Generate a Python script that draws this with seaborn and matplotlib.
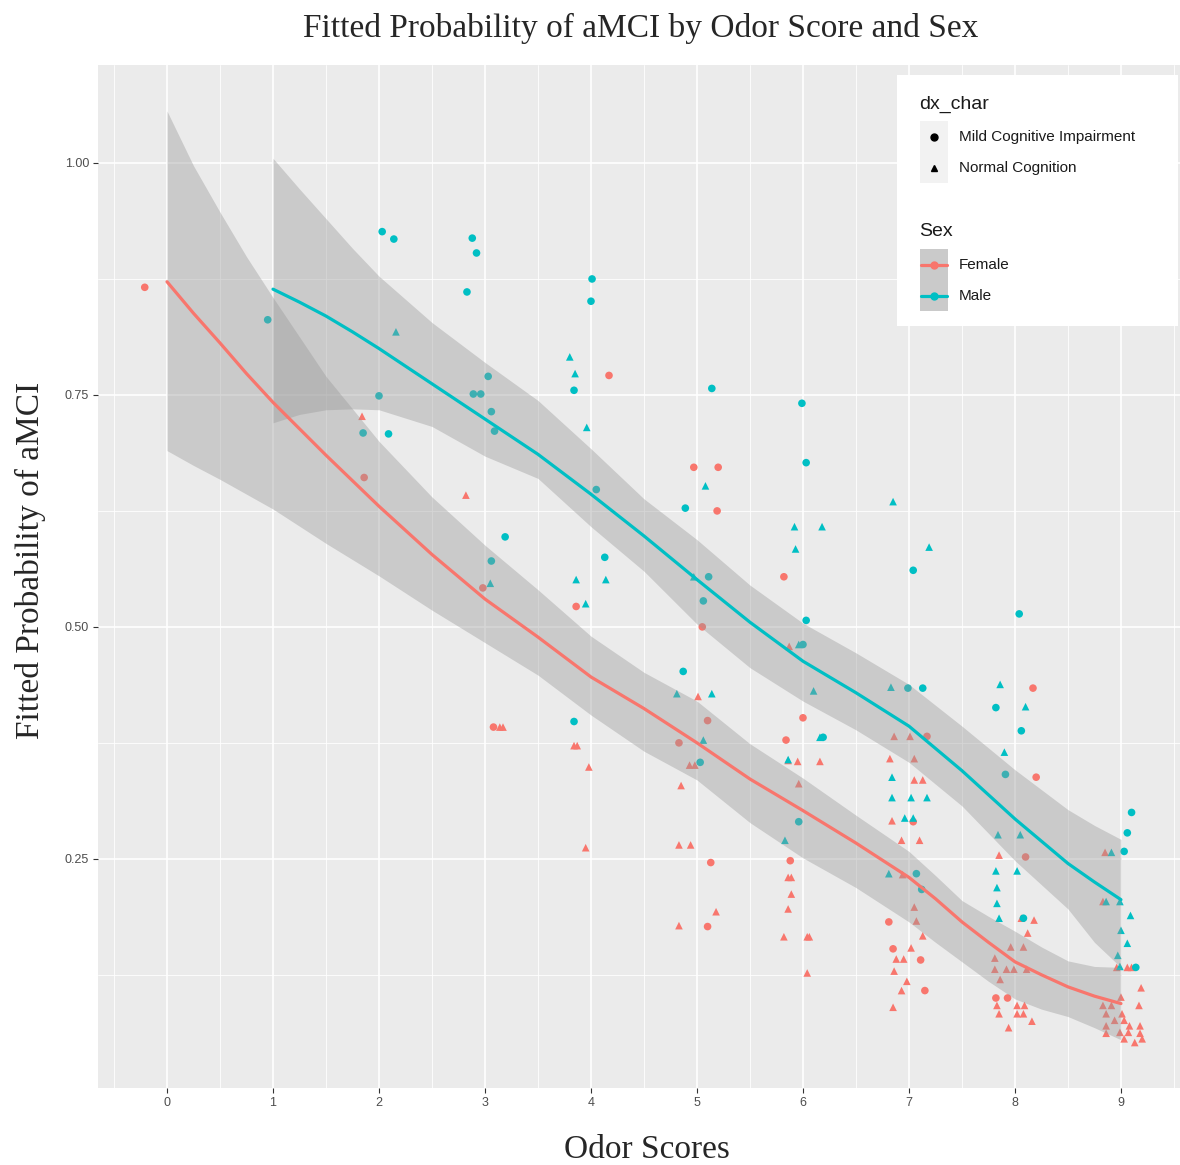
import numpy as np
import pandas as pd
import matplotlib
matplotlib.use("Agg")
import matplotlib.pyplot as plt
import seaborn as sns
from matplotlib.patches import Rectangle
from matplotlib.lines import Line2D
from matplotlib.ticker import MultipleLocator

# --- puntos: odor score (con jitter) y probabilidad ajustada ---
fem_mci_x = [-0.21, 1.86, 2.98, 3.08, 4.17, 3.86, 4.97, 5.20, 5.19, 5.82, 5.05, 5.10, 4.83, 5.84,
             6.00, 5.13, 5.10, 5.88, 7.17, 7.04, 6.81, 6.85, 7.11, 7.15, 8.17, 8.20, 8.10, 7.82, 7.93]
fem_mci_y = [0.866, 0.661, 0.542, 0.392, 0.771, 0.522, 0.672, 0.672, 0.625, 0.554, 0.500, 0.399, 0.375, 0.378,
             0.402, 0.246, 0.177, 0.248, 0.382, 0.290, 0.182, 0.153, 0.141, 0.108, 0.434, 0.338, 0.252, 0.100, 0.100]

fem_nc_x = [1.84, 2.82, 3.14, 3.17, 3.84, 3.87, 3.98, 3.95, 5.01, 4.93, 4.98, 4.85, 4.83, 4.94, 5.18, 4.83,
            5.87, 5.86, 5.95, 6.16, 5.96, 5.86, 5.89, 5.89, 5.86, 5.82, 6.04, 6.06, 6.04,
            6.86, 7.01, 6.82, 7.05, 7.05, 7.13, 6.84, 6.93, 7.10, 6.94, 7.05, 7.07, 7.13, 7.02, 6.88, 6.95,
            6.86, 6.98, 6.93, 6.85,
            7.85, 8.06, 8.18, 8.12, 7.96, 8.08, 7.81, 7.81, 7.92, 7.99, 8.11, 7.86, 7.83, 8.02, 8.09, 7.85,
            8.02, 8.08, 8.16, 7.94,
            8.85, 8.83, 8.96, 9.06, 9.10, 9.19, 9.00, 9.17, 8.83, 8.91, 8.86, 9.01, 8.94, 9.03, 8.86, 9.08,
            9.18, 8.99, 9.07, 9.18, 8.86, 9.03, 9.13, 9.20]
fem_nc_y = [0.727, 0.642, 0.392, 0.392, 0.372, 0.372, 0.349, 0.262, 0.425, 0.351, 0.351, 0.329, 0.265, 0.265, 0.193, 0.178,
            0.479, 0.356, 0.355, 0.355, 0.331, 0.230, 0.230, 0.212, 0.196, 0.166, 0.166, 0.166, 0.127,
            0.382, 0.382, 0.358, 0.358, 0.335, 0.335, 0.291, 0.270, 0.270, 0.233, 0.198, 0.183, 0.167, 0.154, 0.142, 0.142,
            0.129, 0.118, 0.108, 0.090,
            0.254, 0.186, 0.184, 0.170, 0.155, 0.155, 0.143, 0.131, 0.131, 0.131, 0.131, 0.120, 0.092, 0.092, 0.092, 0.083,
            0.083, 0.083, 0.075, 0.068,
            0.257, 0.204, 0.133, 0.133, 0.133, 0.111, 0.101, 0.092, 0.092, 0.092, 0.083, 0.083, 0.076, 0.076, 0.070, 0.070,
            0.070, 0.063, 0.063, 0.062, 0.062, 0.056, 0.052, 0.056]

male_mci_x = [0.95, 1.85, 2.00, 2.09, 2.03, 2.14, 2.83, 2.88, 2.92, 2.89, 2.96, 3.03, 3.06, 3.09, 3.19, 3.06,
              4.01, 4.00, 3.84, 4.05, 4.13, 3.84, 5.14, 4.89, 5.11, 5.06, 4.87, 5.03,
              5.99, 6.03, 6.03, 6.00, 6.19, 5.96, 7.04, 6.99, 7.13, 7.07, 7.12,
              8.04, 7.82, 8.06, 7.91, 8.08, 9.10, 9.06, 9.03, 9.14]
male_mci_y = [0.831, 0.709, 0.749, 0.708, 0.926, 0.918, 0.861, 0.919, 0.903, 0.751, 0.751, 0.770, 0.732, 0.711, 0.597, 0.571,
              0.875, 0.851, 0.755, 0.648, 0.575, 0.398, 0.757, 0.628, 0.554, 0.528, 0.452, 0.354,
              0.741, 0.677, 0.507, 0.481, 0.381, 0.290, 0.561, 0.434, 0.434, 0.234, 0.217,
              0.514, 0.413, 0.388, 0.341, 0.186, 0.300, 0.278, 0.258, 0.133]

male_nc_x = [2.16, 3.05, 3.80, 3.85, 3.96, 3.86, 4.14, 3.95, 5.08, 4.97, 4.81, 5.14, 5.06,
             5.92, 5.93, 6.18, 5.96, 6.10, 6.16, 5.86, 5.83,
             6.85, 7.19, 6.83, 6.84, 6.84, 7.02, 7.17, 6.96, 7.04, 6.81,
             7.86, 8.10, 7.90, 7.84, 8.05, 7.82, 8.02, 7.83, 7.83, 7.85,
             8.91, 8.86, 8.99, 9.09, 9.00, 9.06, 8.97, 8.99]
male_nc_y = [0.818, 0.547, 0.791, 0.773, 0.715, 0.551, 0.551, 0.525, 0.652, 0.554, 0.428, 0.428, 0.378,
             0.608, 0.584, 0.608, 0.481, 0.431, 0.381, 0.357, 0.270,
             0.635, 0.586, 0.435, 0.338, 0.316, 0.316, 0.316, 0.294, 0.294, 0.234,
             0.438, 0.414, 0.365, 0.276, 0.276, 0.237, 0.237, 0.219, 0.202, 0.186,
             0.257, 0.204, 0.204, 0.189, 0.173, 0.159, 0.146, 0.134]

# --- curvas loess y bandas de confianza ---
fem_grid = [0, 0.25, 0.5, 0.75, 1, 1.5, 2, 2.5, 3, 3.5, 4, 4.5, 5, 5.5, 6, 6.5, 7, 7.25, 7.5, 7.75,
            8, 8.25, 8.5, 8.75, 9]
fem_fit = [0.872, 0.838, 0.806, 0.773, 0.742, 0.685, 0.630, 0.578, 0.530, 0.489, 0.446, 0.412, 0.375,
           0.336, 0.302, 0.267, 0.230, 0.207, 0.182, 0.160, 0.139, 0.125, 0.112, 0.102, 0.094]
fem_hi = [1.056, 0.997, 0.947, 0.899, 0.855, 0.770, 0.700, 0.640, 0.588, 0.540, 0.490, 0.451, 0.420,
          0.374, 0.337, 0.297, 0.258, 0.232, 0.205, 0.188, 0.172, 0.155, 0.140, 0.134, 0.133]
fem_lo = [0.690, 0.674, 0.659, 0.643, 0.627, 0.590, 0.555, 0.518, 0.483, 0.448, 0.405, 0.366, 0.335,
          0.289, 0.251, 0.219, 0.182, 0.160, 0.139, 0.118, 0.099, 0.088, 0.080, 0.068, 0.055]

male_grid = [1, 1.25, 1.5, 1.75, 2, 2.5, 3, 3.5, 4, 4.5, 5, 5.5, 6, 6.5, 7, 7.5, 8, 8.5, 8.75, 9]
male_fit = [0.864, 0.850, 0.835, 0.818, 0.800, 0.762, 0.724, 0.686, 0.643, 0.598, 0.551, 0.505, 0.463,
            0.429, 0.393, 0.345, 0.293, 0.245, 0.225, 0.206]
male_hi = [1.005, 0.972, 0.940, 0.908, 0.878, 0.828, 0.785, 0.744, 0.692, 0.638, 0.594, 0.545, 0.504,
           0.472, 0.438, 0.393, 0.346, 0.303, 0.286, 0.271]
male_lo = [0.720, 0.729, 0.734, 0.735, 0.734, 0.716, 0.684, 0.660, 0.608, 0.560, 0.503, 0.456, 0.420,
           0.389, 0.354, 0.307, 0.248, 0.196, 0.160, 0.133]

MCI = "Mild Cognitive Impairment"
NC = "Normal Cognition"
colores = {"Female": "#F8766D", "Male": "#00BFC4"}


def grupo(xs, ys, sexo, dx):
    return pd.DataFrame({"odor": xs, "prob": ys, "Sex": sexo, "dx_char": dx})


puntos = pd.concat([
    grupo(fem_mci_x, fem_mci_y, "Female", MCI),
    grupo(fem_nc_x, fem_nc_y, "Female", NC),
    grupo(male_mci_x, male_mci_y, "Male", MCI),
    grupo(male_nc_x, male_nc_y, "Male", NC),
], ignore_index=True)

curvas = pd.concat([
    pd.DataFrame({"odor": fem_grid, "fit": fem_fit, "Sex": "Female"}),
    pd.DataFrame({"odor": male_grid, "fit": male_fit, "Sex": "Male"}),
], ignore_index=True)

sns.set_theme(style="darkgrid")
plt.rcParams["font.family"] = ["Liberation Sans", "DejaVu Sans"]

W, H = 1180, 1165
fig = plt.figure(figsize=(W / 100, H / 100), dpi=100)
fig.patch.set_facecolor("white")
ax = fig.add_axes([98 / W, 1 - 1088 / H, (1180 - 98) / W, (1088 - 65) / H])
ax.set_facecolor("#EBEBEB")

sns.scatterplot(data=puntos, x="odor", y="prob", hue="Sex", style="dx_char",
                markers={MCI: "o", NC: "^"}, palette=colores, s=30, linewidth=0,
                legend=False, ax=ax, zorder=2)

ax.fill_between(fem_grid, fem_lo, fem_hi, color="#999999", alpha=0.4, lw=0, zorder=3)
ax.fill_between(male_grid, male_lo, male_hi, color="#999999", alpha=0.4, lw=0, zorder=3)

sns.lineplot(data=curvas, x="odor", y="fit", hue="Sex", palette=colores, lw=2.3,
             estimator=None, sort=False, legend=False, ax=ax, zorder=4)

ax.set_xlim(-0.651, 9.557)
ax.set_ylim(0.003, 1.1056)
ax.set_xticks(range(10))
ax.set_yticks([0.25, 0.5, 0.75, 1.0])
ax.set_yticklabels(["0.25", "0.50", "0.75", "1.00"])
ax.xaxis.set_minor_locator(MultipleLocator(0.5))
ax.yaxis.set_minor_locator(MultipleLocator(0.125))
ax.grid(which="major", color="white", lw=1.2)
ax.grid(which="minor", color="white", lw=0.6)
ax.set_axisbelow(True)
for s in ax.spines.values():
    s.set_visible(False)
ax.tick_params(which="major", length=3.5, width=0.8, color="#333333",
               labelcolor="#4D4D4D", labelsize=9, pad=3, bottom=True, left=True)
ax.tick_params(which="minor", length=0)
ax.set_xlabel("")
ax.set_ylabel("")

serif = ["Liberation Serif", "DejaVu Serif"]
fig.text(641 / W, 1 - 28 / H, "Fitted Probability of aMCI by Odor Score and Sex",
         ha="center", va="center", fontsize=24, family=serif)
fig.text(647 / W, 1 - 1150 / H, "Odor Scores", ha="center", va="center",
         fontsize=24, family=serif)
fig.text(30 / W, 1 - 560 / H, "Fitted Probability of aMCI", ha="center", va="center",
         rotation=90, fontsize=24, family=serif)


# --- leyenda (caja blanca dentro del panel) ---
def fx(px):
    return px / W


def fy(py):
    return 1 - py / H


def caja(x0, y0, x1, y1, color):
    fig.add_artist(Rectangle((fx(x0), fy(y1)), fx(x1) - fx(x0), fy(y0) - fy(y1),
                             transform=fig.transFigure, facecolor=color, lw=0, zorder=5))


caja(897, 75, 1178, 326, "white")
caja(920, 121, 948, 183, "#F2F2F2")
caja(920, 249, 948, 311, "#CACACA")

fig.text(fx(919), fy(104), "dx_char", ha="left", va="center", fontsize=14, color="#1A1A1A", zorder=6)
fig.text(fx(919), fy(231), "Sex", ha="left", va="center", fontsize=14, color="#1A1A1A", zorder=6)

for py, mk, lab in [(137, "o", MCI), (168, "^", NC)]:
    fig.add_artist(Line2D([fx(934)], [fy(py)], transform=fig.transFigure, marker=mk,
                          color="black", markersize=5, lw=0, zorder=6))
    fig.text(fx(959), fy(py), lab, ha="left", va="center", fontsize=11, color="#1A1A1A", zorder=6)

for py, sexo in [(265, "Female"), (296, "Male")]:
    fig.add_artist(Line2D([fx(921), fx(947)], [fy(py), fy(py)], transform=fig.transFigure,
                          color=colores[sexo], lw=2.3, zorder=6))
    fig.add_artist(Line2D([fx(934)], [fy(py)], transform=fig.transFigure, marker="o",
                          color=colores[sexo], markersize=5, lw=0, zorder=6))
    fig.text(fx(959), fy(py), sexo, ha="left", va="center", fontsize=11, color="#1A1A1A", zorder=6)

fig.savefig("out.png", dpi=100)
